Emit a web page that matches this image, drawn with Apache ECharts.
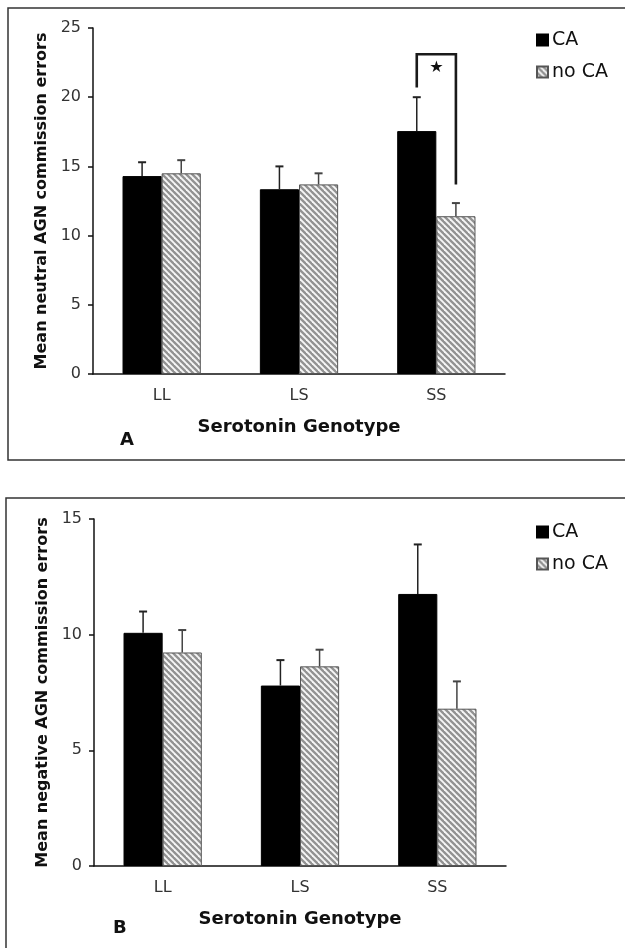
<!DOCTYPE html>
<html>
<head>
<meta charset="utf-8">
<script src="https://cdn.jsdelivr.net/npm/echarts@6/dist/echarts.min.js"></script>
<style>html,body{margin:0;padding:0;background:#fff}#c{width:625px;height:948px}</style>
</head>
<body>
<div id="c"></div>
<script>
// ---- data ----
const categories = ['LL', 'LS', 'SS'];
const neutralCA = [14.3, 13.35, 17.55];
const neutralCASE = [1.0, 1.65, 2.45];
const neutralNoCA = [14.5, 13.7, 11.4];
const neutralNoCASE = [0.95, 0.8, 0.95];
const negativeCA = [10.08, 7.8, 11.76];
const negativeCASE = [0.92, 1.1, 2.14];
const negativeNoCA = [9.23, 8.63, 6.8];
const negativeNoCASE = [0.97, 0.72, 1.18];
const neutralTicks = [0, 5, 10, 15, 20, 25];
const negativeTicks = [0, 5, 10, 15];
// significance bracket on SS (panel A): left end, top, right end; star level
const bracketSS = [20.7, 23.1, 13.7];
const starLevel = 22.1;

// ---- hatch pattern ----
function makeHatch() {
  const s = 6;
  const cv = document.createElement('canvas');
  cv.width = s; cv.height = s;
  const ctx = cv.getContext('2d');
  ctx.fillStyle = '#f6f6f6';
  ctx.fillRect(0, 0, s, s);
  ctx.strokeStyle = '#929292';
  ctx.lineWidth = 2.3;
  for (let k = -1; k <= 1; k++) {
    ctx.beginPath();
    ctx.moveTo(k * s - 1, -1);
    ctx.lineTo(k * s + s + 1, s + 1);
    ctx.stroke();
  }
  return cv;
}
const hatch = { image: makeHatch(), repeat: 'repeat' };

const BAR_PCT = 0.285;
const FONT = 'DejaVu Sans';

function errSeries(gridIdx, means, ses, side, color) {
  return {
    type: 'custom', xAxisIndex: gridIdx, yAxisIndex: gridIdx, silent: true, z: 5,
    data: means.map((m, i) => [i, m, m + ses[i]]),
    renderItem: function (params, api) {
      const band = api.size([1, 0])[0];
      const off = side * band * BAR_PCT / 2;
      const p0 = api.coord([api.value(0), api.value(1)]);
      const p1 = api.coord([api.value(0), api.value(2)]);
      const x = p0[0] + off;
      const cap = 4;
      return {
        type: 'group', children: [
          { type: 'line', shape: { x1: x, y1: p0[1], x2: x, y2: p1[1] }, style: { stroke: color, lineWidth: 1.5 } },
          { type: 'line', shape: { x1: x - cap, y1: p1[1], x2: x + cap, y2: p1[1] }, style: { stroke: color, lineWidth: 2 } }
        ]
      };
    }
  };
}

function bracketSeries() {
  return {
    type: 'custom', xAxisIndex: 0, yAxisIndex: 0, silent: true, z: 6,
    data: [[2, bracketSS[0], bracketSS[1], bracketSS[2], starLevel]],
    renderItem: function (params, api) {
      const band = api.size([1, 0])[0];
      const off = band * BAR_PCT / 2;
      const c = api.coord([api.value(0), api.value(2)]);
      const xl = c[0] - off, xr = c[0] + off;
      const yl = api.coord([api.value(0), api.value(1)])[1];
      const yt = c[1];
      const yr = api.coord([api.value(0), api.value(3)])[1];
      const ys = api.coord([api.value(0), api.value(4)])[1];
      return {
        type: 'group', children: [
          { type: 'polyline', shape: { points: [[xl, yl], [xl, yt], [xr, yt], [xr, yr]] }, style: { stroke: '#1a1a1a', lineWidth: 2.6, fill: null } },
          { type: 'text', style: { text: '★', x: c[0], y: ys, align: 'center', verticalAlign: 'middle', font: '16px "DejaVu Sans"', fill: '#111' } }
        ]
      };
    }
  };
}

function xAxisDef(gi) {
  return {
    type: 'category', gridIndex: gi, data: categories,
    axisLine: { lineStyle: { color: '#111', width: 1.5 } },
    axisTick: { show: false },
    axisLabel: { color: '#333', fontSize: 16, fontFamily: FONT, margin: 14 },
    name: 'Serotonin Genotype', nameLocation: 'middle', nameGap: 44,
    nameTextStyle: { color: '#111', fontSize: 18, fontWeight: 'bold', fontFamily: FONT }
  };
}
function yAxisDef(gi, ticks, name) {
  return {
    type: 'value', gridIndex: gi, min: ticks[0], max: ticks[ticks.length - 1], interval: ticks[1] - ticks[0],
    axisLine: { show: true, lineStyle: { color: '#111', width: 1.5 } },
    axisTick: { show: true, length: 5, lineStyle: { color: '#111', width: 1.5 } },
    splitLine: { show: false },
    axisLabel: { color: '#333', fontSize: 16, fontFamily: FONT, margin: 12 },
    name: name, nameLocation: 'middle', nameGap: 41, nameRotate: 90,
    nameTextStyle: { color: '#111', fontSize: 16, fontWeight: 'bold', fontFamily: FONT }
  };
}

function legendDef(top) {
  return {
    orient: 'vertical', left: 531, top: top, itemWidth: 11, itemHeight: 11, itemGap: 12,
    icon: 'rect', selectedMode: false,
    data: ['CA', 'no CA'],
    textStyle: { color: '#111', fontSize: 19, fontFamily: FONT, lineHeight: 20, padding: [0, 0, 0, -1] }
  };
}

const barCommon = { type: 'bar', barWidth: (BAR_PCT * 100) + '%', barGap: '0%' };

const chart = echarts.init(document.getElementById('c'), null, { renderer: 'canvas' });
chart.setOption({
  animation: false,
  backgroundColor: '#fff',
  grid: [
    { left: 93, top: 28, width: 412, height: 346 },
    { left: 94, top: 519, width: 412, height: 347 }
  ],
  xAxis: [xAxisDef(0), xAxisDef(1)],
  yAxis: [yAxisDef(0, neutralTicks, 'Mean neutral AGN commission errors'),
          yAxisDef(1, negativeTicks, 'Mean negative AGN commission errors')],
  legend: [legendDef(25), legendDef(517)],
  series: [
    Object.assign({}, barCommon, { name: 'CA', xAxisIndex: 0, yAxisIndex: 0, data: neutralCA, itemStyle: { color: '#000', borderColor: '#000', borderWidth: 1 } }),
    Object.assign({}, barCommon, { name: 'no CA', xAxisIndex: 0, yAxisIndex: 0, data: neutralNoCA, itemStyle: { color: hatch, borderColor: '#555', borderWidth: 1 } }),
    Object.assign({}, barCommon, { name: 'CA', xAxisIndex: 1, yAxisIndex: 1, data: negativeCA, itemStyle: { color: '#000', borderColor: '#000', borderWidth: 1 } }),
    Object.assign({}, barCommon, { name: 'no CA', xAxisIndex: 1, yAxisIndex: 1, data: negativeNoCA, itemStyle: { color: hatch, borderColor: '#555', borderWidth: 1 } }),
    errSeries(0, neutralCA, neutralCASE, -1, '#222'),
    errSeries(0, neutralNoCA, neutralNoCASE, 1, '#444'),
    errSeries(1, negativeCA, negativeCASE, -1, '#222'),
    errSeries(1, negativeNoCA, negativeNoCASE, 1, '#444'),
    bracketSeries()
  ],
  graphic: [
    { type: 'rect', shape: { x: 8, y: 8, width: 700, height: 452 }, style: { fill: null, stroke: '#333', lineWidth: 1.5 }, silent: true },
    { type: 'rect', shape: { x: 6, y: 498, width: 700, height: 500 }, style: { fill: null, stroke: '#333', lineWidth: 1.5 }, silent: true },
    { type: 'text', left: 120, top: 431, style: { text: 'A', font: 'bold 18px "DejaVu Sans"', fill: '#111' } },
    { type: 'text', left: 113, top: 919, style: { text: 'B', font: 'bold 18px "DejaVu Sans"', fill: '#111' } }
  ]
});
</script>
</body>
</html>
